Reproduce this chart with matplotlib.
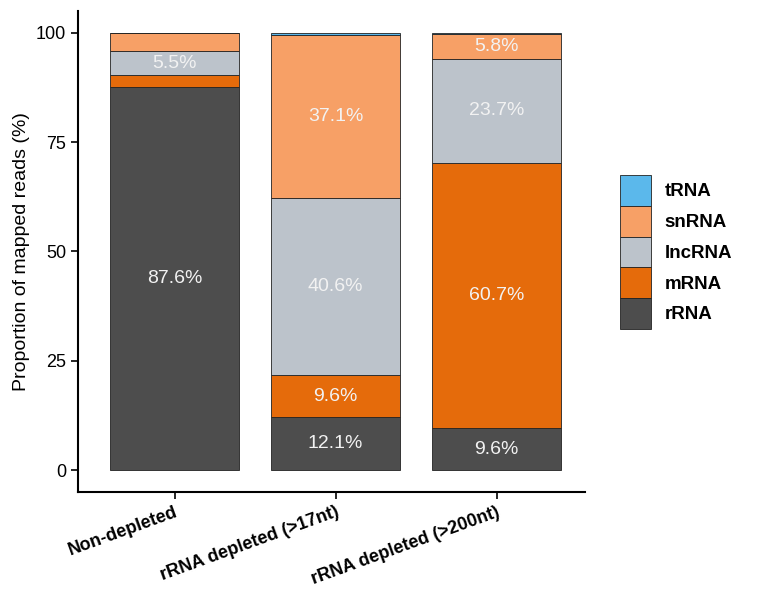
import matplotlib
matplotlib.use("Agg")
import matplotlib.pyplot as plt
from matplotlib.patches import Patch

plt.rcParams['font.family'] = ['Liberation Sans', 'DejaVu Sans']

samples = ["Non-depleted", "rRNA depleted (>17nt)", "rRNA depleted (>200nt)"]
types = ["rRNA", "mRNA", "lncRNA", "snRNA", "tRNA"]
rRNA = [87.6, 12.1, 9.6]
mRNA = [2.7, 9.6, 60.7]
lncRNA = [5.5, 40.6, 23.7]
snRNA = [4.2, 37.1, 5.8]
tRNA = [0.0, 0.6, 0.2]
colors = ["#4d4d4d", "#e56b0b", "#bcc3cb", "#f7a066", "#5bb8eb"]

series = [rRNA, mRNA, lncRNA, snRNA, tRNA]

fig = plt.figure(figsize=(7.64, 6), dpi=100)
ax = fig.add_axes([0.102, 0.18, 0.664, 0.802])

x = list(range(1, len(samples) + 1))
bottom = [0.0] * len(samples)
for vals, col in zip(series, colors):
    ax.bar(x, vals, width=0.8, bottom=bottom, color=col, edgecolor="#222222", linewidth=0.6)
    for i, v in enumerate(vals):
        if v >= 5:
            ax.text(x[i], bottom[i] + v / 2, f"{v}%", ha="center", va="center",
                    color="#f2f2f2", fontsize=14)
    bottom = [b + v for b, v in zip(bottom, vals)]

ax.set_xlim(0.4, 3.55)
ax.set_ylim(-5, 105)
ax.set_yticks([0, 25, 50, 75, 100])
ax.set_xticks(x)
ax.set_xticklabels(samples, rotation=20, ha="right", rotation_mode="anchor",
                   fontweight="bold", fontsize=13)
ax.tick_params(axis="y", labelsize=13, length=5, width=1.2, colors="black")
ax.tick_params(axis="x", length=5, width=1.2)
ax.set_ylabel("Proportion of mapped reads (%)", fontsize=14)
for s in ["top", "right"]:
    ax.spines[s].set_visible(False)
for s in ["left", "bottom"]:
    ax.spines[s].set_linewidth(1.5)

handles = [Patch(facecolor=c, edgecolor="#222222", linewidth=0.6, label=t)
           for c, t in zip(colors[::-1], types[::-1])]
fig.legend(handles=handles, loc="center left", bbox_to_anchor=(0.812, 0.58),
           frameon=False, prop={"weight": "bold", "size": 13.5},
           handlelength=1.65, handleheight=2.15, labelspacing=0.0, handletextpad=0.7,
           borderaxespad=0, borderpad=0)

fig.savefig("out.png", dpi=100)
